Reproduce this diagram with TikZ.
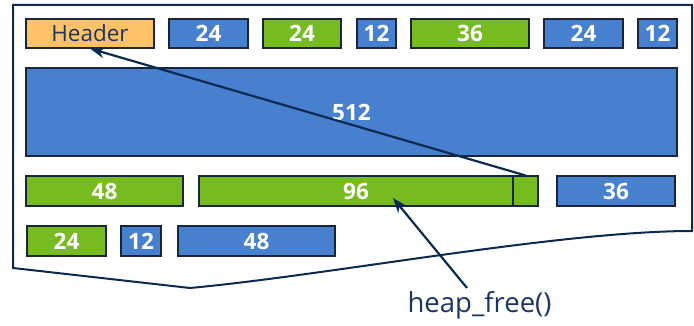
\documentclass[tikz,border=0pt]{standalone}
\usepackage{fontspec}
\setmainfont{Open Sans}
\usetikzlibrary{arrows.meta,calc}
\definecolor{cblue}{RGB}{72,128,208}
\definecolor{cgreen}{RGB}{118,188,33}
\definecolor{corange}{RGB}{255,194,102}
\definecolor{cnavy}{RGB}{12,42,80}
\definecolor{ctext}{RGB}{28,54,98}
\definecolor{cedge}{RGB}{25,38,55}
\tikzset{
  blk/.style={draw=cedge, line width=1.1pt, inner sep=0pt, minimum height=29pt,
    font=\fontsize{22.5}{26}\selectfont\bfseries, text=white},
  bb/.style={blk, fill=cblue},
  gb/.style={blk, fill=cgreen},
  frame/.style={draw=cnavy, line width=2pt},
  arr/.style={draw=cnavy, line width=2.2pt, -{Stealth[length=15pt,width=11pt]}},
}
\begin{document}
\begin{tikzpicture}[x=1pt,y=-1pt]
\useasboundingbox (0,0) rectangle (694,326);
\draw[frame] (13,268) -- (13,5) -- (692,5) -- (692,231)
  .. controls (560,231) and (330,275) .. (190,288) -- cycle;
% top row
\node[blk, fill=corange, text=ctext, font=\fontsize{22.5}{26}\selectfont, minimum width=128pt] (hdr) at (90,33.5) {Header};
\node[bb, minimum width=79pt] (b1) at (208.5,33.5) {24};
\node[gb, minimum width=78pt] (g1) at (302,33.5) {24};
\node[bb, minimum width=39pt] (b2) at (376.5,33.5) {12};
\node[gb, minimum width=118pt] (g2) at (470,33.5) {36};
\node[bb, minimum width=79pt] (b3) at (583.5,33.5) {24};
\node[bb, minimum width=39pt] (b4) at (657.5,33.5) {12};
% big block
\node[bb, minimum width=651pt, minimum height=88pt] (big) at (351.5,112) {512};
% third row
\node[gb, minimum width=157pt, minimum height=30pt] (g3) at (104.5,191) {48};
\node[gb, minimum width=314pt, minimum height=30pt] (g4) at (356,191) {96};
\node[gb, minimum width=25pt, minimum height=30pt] (g5) at (525.5,191) {};
\node[bb, minimum width=118pt, minimum height=30pt] (b5) at (616,191) {36};
% fourth row
\node[gb, minimum width=79pt, minimum height=30pt] (g6) at (66.5,241) {24};
\node[bb, minimum width=40pt, minimum height=30pt] (b6) at (141,241) {12};
\node[bb, minimum width=157pt, minimum height=30pt] (b7) at (256.5,241) {48};
% label
\node[font=\fontsize{27.5}{30}\selectfont, text=ctext, inner sep=0pt] (hf) at (479.5,305) {heap\_free()};
\coordinate (t2) at (393,198);
\draw[arr] (g5.north) -- (hdr.south);
\draw[arr] ($(hf.north)+(-12.5,-3)$) -- (t2);
\end{tikzpicture}
\end{document}
